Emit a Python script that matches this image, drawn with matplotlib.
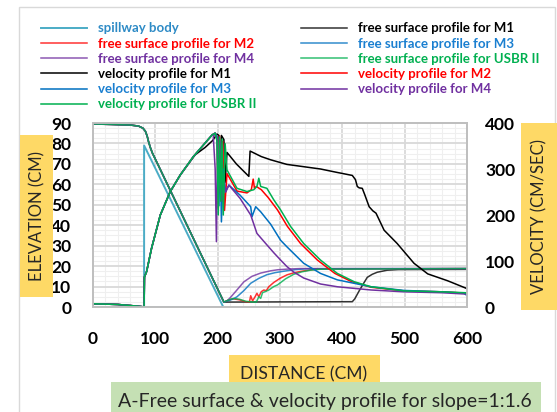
import matplotlib
matplotlib.use('Agg')
import matplotlib.pyplot as plt
from matplotlib.patches import Rectangle
from matplotlib.ticker import MultipleLocator

plt.rcParams['font.family'] = ['Lato', 'DejaVu Sans']

W, H = 557, 412

# ---------------- data ----------------
spill_x = [82, 82, 209, 82]
spill_y = [0, 79, 0, 0]

# free surface (elevation, cm) - common upstream part
fs_up_x = [0, 30, 60, 73, 80, 84, 87, 89, 92, 95, 210]
fs_up_y = [89.5, 89.3, 89.0, 88.5, 87.5, 86, 83.5, 81, 78, 75.5, 2.4]

fs_m1_x = [300, 416, 420, 427, 434, 440, 448, 456, 472, 490, 600]
fs_m1_y = [2.5, 2.6, 4.0, 7.9, 11.5, 14.5, 16.0, 17.0, 18.0, 18.3, 18.4]

fs_m2_x = [218, 225, 235, 245, 251, 253, 256, 260, 263, 266, 270, 274, 278, 282, 290, 300, 311, 322, 333, 350, 365, 600]
fs_m2_y = [3.5, 4.0, 3.5, 2.6, 2.5, 5.5, 3.0, 5.0, 6.7, 5.0, 7.5, 8.3, 8.0, 9.9, 12.0, 14.0, 15.7, 16.7, 17.4, 18.2, 18.6, 18.8]

fs_m3_x = [216, 224, 231, 242, 253, 266, 279, 292, 306, 325, 344, 600]
fs_m3_y = [3.0, 3.8, 5.0, 8.0, 11.6, 14.0, 15.8, 16.8, 17.5, 18.3, 18.7, 18.8]

fs_m4_x = [215, 220, 230, 242, 255, 269, 285, 296, 315, 333, 600]
fs_m4_y = [3.0, 4.5, 8.0, 12.3, 15.0, 16.6, 17.7, 18.2, 18.6, 18.8, 18.8]

fs_usbr_x = [218, 225, 235, 245, 258, 262, 266, 269, 272, 276, 282, 290, 296, 309, 322, 335, 349, 365, 600]
fs_usbr_y = [3.5, 4.2, 3.8, 2.8, 2.4, 2.4, 5.0, 4.2, 7.0, 7.5, 8.3, 10.0, 10.8, 13.8, 16.0, 17.2, 18.0, 18.5, 18.8]

# velocity (cm/s) - common upstream part
v_up_x = [0, 40, 70, 80, 82, 82.5, 86, 94, 108, 124, 140, 161, 177, 191, 196]
v_up_y = [7, 5.5, 2, 0.5, 0, 65, 77, 128, 200, 251, 287, 327, 352, 374, 378]

v_m1_x = [0, 40, 70, 80, 82, 82.5, 86, 94, 108, 124, 140, 164, 180, 192, 199, 202, 204, 206, 210, 212, 215,
          230, 250, 252, 270, 285, 311, 338, 365, 390, 416, 421, 424, 427, 432, 436, 443, 449, 454, 460, 467,
          488, 515, 537, 569, 600]
v_m1_y = [7, 5.5, 2, 0.5, 0, 65, 77, 128, 200, 251, 287, 331, 347, 362, 376, 373, 311, 373, 364, 271, 336,
          311, 284, 339, 327, 320, 310, 305, 300, 293, 286, 277, 262, 259, 258, 244, 218, 209, 204, 187, 167,
          138, 95, 72, 57, 40]

v_m2_x = [199, 201, 203, 205, 208, 211, 215, 231, 247, 254, 257, 259, 262, 270, 281, 296, 312, 333, 360, 388, 415, 446, 499, 560, 600]
v_m2_y = [365, 215, 372, 240, 360, 210, 290, 252, 248, 255, 278, 258, 262, 255, 238, 211, 175, 138, 102, 73, 55, 43, 35, 33, 30]

v_m3_x = [199, 202, 204, 206, 209, 212, 218, 236, 253, 255, 261, 269, 285, 301, 311, 338, 365, 392, 446, 499, 560, 595, 600]
v_m3_y = [370, 220, 340, 185, 300, 250, 265, 243, 218, 196, 218, 207, 180, 145, 131, 95, 73, 59, 44, 36, 33, 30, 25]

v_m4_x = [193, 196, 198, 200, 202, 204, 207, 210, 213, 218, 236, 253, 263, 279, 290, 301, 311, 322, 338, 365, 392, 446, 499, 560, 600]
v_m4_y = [370, 300, 142, 370, 250, 360, 230, 280, 250, 265, 236, 200, 160, 135, 118, 102, 88, 76, 63, 50, 44, 37, 33, 31, 28]

v_usbr_x = [199, 201, 203, 205, 207, 209, 212, 215, 231, 247, 258, 263, 266, 269, 279, 290, 301, 317, 338, 365, 392, 419, 446, 499, 560, 598, 600]
v_usbr_y = [360, 200, 370, 230, 365, 200, 355, 298, 258, 251, 255, 262, 280, 262, 258, 233, 211, 175, 138, 102, 73, 55, 44, 35, 33, 31, 28]

x_ticks = [0, 100, 200, 300, 400, 500, 600]
elev_ticks = [0, 10, 20, 30, 40, 50, 60, 70, 80, 90]
vel_ticks = [0, 100, 200, 300, 400]

# ---------------- colours ----------------
C_SP = '#4bacc6'
C_M1 = '#000000'
C_M2 = '#ff0000'
C_M3 = '#0070c0'
C_M4 = '#7030a0'
C_US = '#00b050'

def fx(px):
    return px / W

def fy(py):
    return 1 - py / H

fig = plt.figure(figsize=(W / 100, H / 100), dpi=100)
fig.patch.set_facecolor('white')

# outer chart border
fig.patches.append(Rectangle((fx(18.5), fy(420)), fx(555) - fx(18.5), fy(6.5) - fy(420),
                             transform=fig.transFigure, fill=False, edgecolor='#d9d9d9', lw=1.0))

ax = fig.add_axes([fx(93), fy(307), fx(467) - fx(93), fy(123) - fy(307)])
ax2 = ax.twinx()

ax.set_xlim(0, 600)
ax.set_ylim(0, 90)
ax2.set_ylim(0, 400)

ax.set_axisbelow(True)
ax.xaxis.set_minor_locator(MultipleLocator(20))
ax.yaxis.set_minor_locator(MultipleLocator(2.5))
ax.set_xticks(x_ticks)
ax.set_yticks(elev_ticks)
ax2.set_yticks(vel_ticks)
ax.grid(which='major', color='#d9d9d9', lw=1.3)
ax.grid(which='minor', color='#efefef', lw=0.8)

for a in (ax, ax2):
    for s in a.spines.values():
        s.set_color('#bfbfbf')
        s.set_linewidth(1.3)
ax.tick_params(which='both', length=0)
ax2.tick_params(which='both', length=0)
ax.tick_params(axis='y', pad=15.5, labelsize=12.5)
ax.tick_params(axis='x', pad=17, labelsize=12.5)
ax2.tick_params(axis='y', pad=13, labelsize=12.5)
for lab in ax.get_xticklabels() + ax.get_yticklabels() + ax2.get_yticklabels():
    lab.set_fontweight('bold')

# spillway body
ax.fill(spill_x, spill_y, color='white', zorder=1.5, lw=0)
l_sp, = ax.plot(spill_x, spill_y, color=C_SP, lw=1.4, zorder=2)

fa = 0.8
lw = 1.1
l_fm1, = ax.plot(fs_up_x + fs_m1_x, fs_up_y + fs_m1_y, color=C_M1, lw=lw, alpha=fa, zorder=3)
l_fm2, = ax.plot(fs_up_x + fs_m2_x, fs_up_y + fs_m2_y, color=C_M2, lw=lw, alpha=fa, zorder=3)
l_fm3, = ax.plot(fs_up_x + fs_m3_x, fs_up_y + fs_m3_y, color=C_M3, lw=lw, alpha=fa, zorder=3)
l_fm4, = ax.plot(fs_up_x + fs_m4_x, fs_up_y + fs_m4_y, color=C_M4, lw=lw, alpha=fa, zorder=3)
l_fus, = ax.plot(fs_up_x + fs_usbr_x, fs_up_y + fs_usbr_y, color=C_US, lw=lw, alpha=fa, zorder=3)

l_vm1, = ax2.plot(v_m1_x, v_m1_y, color=C_M1, lw=lw)
l_vm2, = ax2.plot(v_up_x + v_m2_x, v_up_y + v_m2_y, color=C_M2, lw=lw)
l_vm3, = ax2.plot(v_up_x + v_m3_x, v_up_y + v_m3_y, color=C_M3, lw=lw)
l_vm4, = ax2.plot(v_up_x + v_m4_x, v_up_y + v_m4_y, color=C_M4, lw=lw)
l_vus, = ax2.plot(v_up_x + v_usbr_x, v_up_y + v_usbr_y, color=C_US, lw=lw)

# legend (two columns, row-major order like the reference)
col1 = [(l_sp, 'spillway body', '#2e8bc6'),
        (l_fm2, 'free surface profile for M2', C_M2),
        (l_fm4, 'free surface profile for M4', C_M4),
        (l_vm1, 'velocity profile for M1', C_M1),
        (l_vm3, 'velocity profile for M3', '#1a7fd0'),
        (l_vus, 'velocity profile for USBR II', C_US)]
col2 = [(l_fm1, 'free surface profile for M1', C_M1),
        (l_fm3, 'free surface profile for M3', '#1a7fd0'),
        (l_fus, 'free surface profile for USBR II', C_US),
        (l_vm2, 'velocity profile for M2', C_M2),
        (l_vm4, 'velocity profile for M4', C_M4)]

LEG_FS = 9.5
for col, x0 in ((col1, 41), (col2, 301)):
    fig.legend([c[0] for c in col], [c[1] for c in col],
               loc='upper left', bbox_to_anchor=(fx(x0), fy(22.5)),
               frameon=False, ncol=1, borderpad=0, borderaxespad=0,
               handlelength=3.5, handletextpad=0.8, labelspacing=0.24,
               prop={'size': LEG_FS, 'weight': 'bold'},
               labelcolor=[c[2] for c in col])

# axis title boxes
def box(x0, y0, x1, y1, color):
    fig.patches.append(Rectangle((fx(x0), fy(y1)), fx(x1) - fx(x0), fy(y0) - fy(y1),
                                 transform=fig.transFigure, facecolor=color, edgecolor='none', zorder=5))

YEL = '#fed966'
box(20, 135, 53, 297, YEL)
fig.text(fx(37), fy(216), 'ELEVATION (CM)', rotation=90, ha='center', va='center',
         fontsize=12, color='#262626', zorder=6)
box(521, 123, 558, 310, YEL)
fig.text(fx(539), fy(216), 'VELOCITY (CM/SEC)', rotation=90, ha='center', va='center',
         fontsize=12, color='#262626', zorder=6)
box(229, 355, 380, 400, YEL)
fig.text(fx(304), fy(374), 'DISTANCE (CM)', ha='center', va='center',
         fontsize=12.6, color='#262626', zorder=6)
box(111, 382, 541, 420, '#c5e0b4')
fig.text(fx(325), fy(402), 'A-Free surface & velocity profile for slope=1:1.6', ha='center', va='center',
         fontsize=14, color='#262626', zorder=6)

fig.savefig('out.png', dpi=100)
